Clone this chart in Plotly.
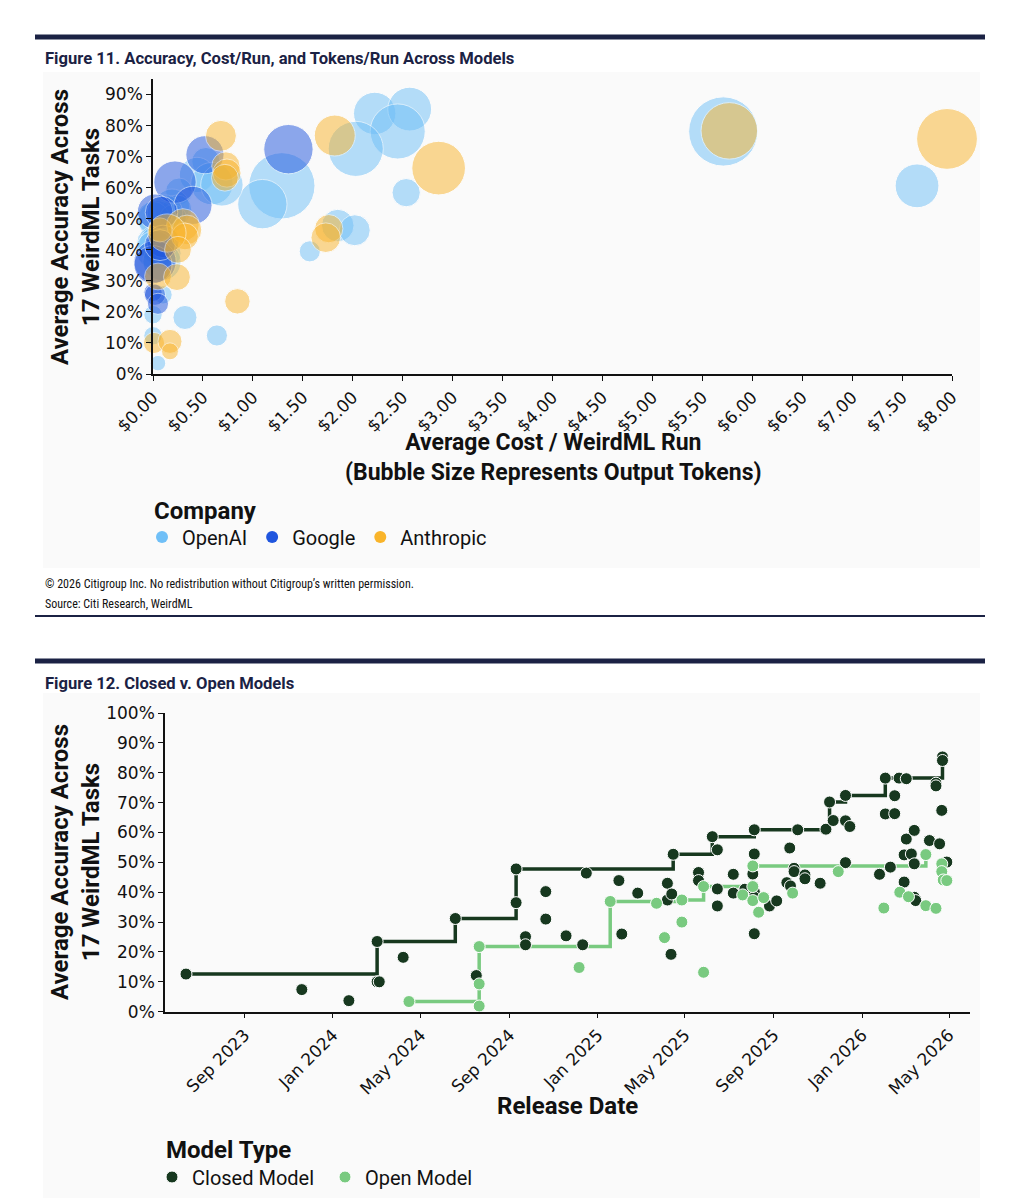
import plotly.graph_objects as go

# ---------------- Figure 11 data ----------------
openai_cost = [2.22, 2.57, 2.45, 2.03, 2.535, 1.29, 1.095, 1.85, 2.02, 1.57, 0.64, 0.32,
               0.53, 0.44, 0.59, 0.69, 0.26, 0.19, 0.24, 0.04, 0.0, 0.20, 0.0, 0.05,
               0.02, 0.14, 0.09, 0.10, 0.0, 0.0, 0.05, 5.71, 7.65, 0.12]
openai_acc = [83.9, 85.3, 78.1, 72.5, 58.4, 60.6, 54.7, 47.8, 46.3, 39.5, 12.4, 18.2,
              68.4, 64.1, 61.3, 60.9, 58.8, 53.9, 52.9, 49.7, 50.3, 50.2, 42.2, 41.6,
              40.0, 38.9, 36.2, 25.5, 19.1, 12.3, 3.5, 78.1, 60.6, 52.0]
openai_tokens_k = [450, 480, 760, 760, 200, 1100, 610, 265, 240, 112, 112, 145,
                   200, 312, 450, 450, 180, 312, 220, 365, 265, 180, 265, 365,
                   365, 200, 365, 85, 85, 85, 60, 1200, 480, 312]

google_cost = [1.356, 0.52, 0.22, 0.40, 0.02, 0.085, 0.10, 0.02, 0.0, 0.0, 0.02, 0.05, 0.07]
google_acc = [72.4, 70.6, 61.8, 54.3, 52.3, 52.0, 42.7, 36.2, 35.2, 26.3, 25.5, 22.6, 41.5]
google_tokens_k = [610, 365, 450, 365, 312, 265, 265, 450, 365, 85, 112, 112, 240]

anthropic_cost = [1.82, 2.86, 1.76, 1.73, 0.845, 0.68, 0.73, 0.74, 0.72, 0.30, 0.34,
                  0.32, 0.07, 0.14, 0.25, 0.05, 0.24, 0.01, 0.17, 0.17, 5.77, 7.95]
anthropic_acc = [76.8, 66.3, 46.8, 43.9, 23.4, 76.7, 67.0, 64.7, 63.2, 48.0, 46.4,
                 44.3, 46.4, 45.4, 40.0, 31.4, 31.2, 10.0, 10.5, 7.3, 78.3, 75.7]
anthropic_tokens_k = [420, 720, 200, 220, 162, 240, 200, 200, 180, 265, 220,
                      180, 145, 365, 180, 180, 180, 112, 145, 72, 800, 925]

cost_ticks = [i * 0.5 for i in range(17)]
acc_ticks_top = list(range(0, 100, 10))

# ---------------- Figure 12 data ----------------
closed_dates = ["2023-06-12", "2023-11-19", "2024-01-23", "2024-03-02", "2024-03-02", "2024-03-05",
                "2024-04-07", "2024-06-18", "2024-07-17", "2024-09-10", "2024-09-10", "2024-09-23",
                "2024-09-23", "2024-10-21", "2024-10-21", "2024-11-18", "2024-12-11", "2024-12-16",
                "2025-01-30", "2025-02-03", "2025-02-25", "2025-04-07", "2025-04-07", "2025-04-13",
                "2025-04-12", "2025-04-15", "2025-05-20", "2025-05-20", "2025-06-08", "2025-06-15",
                "2025-06-15", "2025-06-15", "2025-07-07", "2025-07-07", "2025-07-23", "2025-08-05",
                "2025-08-05", "2025-08-03", "2025-08-05", "2025-08-05", "2025-08-05", "2025-08-26",
                "2025-09-05", "2025-09-23", "2025-09-29", "2025-09-29", "2025-09-19", "2025-09-24",
                "2025-10-04", "2025-10-14", "2025-10-14", "2025-11-04", "2025-11-12", "2025-11-17",
                "2025-11-22", "2025-12-09", "2025-12-09", "2025-12-15", "2025-12-09", "2026-01-25",
                "2026-02-02", "2026-02-02", "2026-02-09", "2026-02-15", "2026-02-15", "2026-02-21",
                "2026-03-03", "2026-03-03", "2026-02-28", "2026-02-28", "2026-03-14", "2026-03-10",
                "2026-03-14", "2026-03-14", "2026-03-16", "2026-04-04", "2026-04-13", "2026-04-13",
                "2026-04-18", "2026-04-21", "2026-04-22", "2026-04-22", "2026-04-28"]
closed_acc = [12.6, 7.4, 3.7, 23.5, 10.0, 10.0,
              18.2, 31.2, 12.1, 47.8, 36.5, 25.1,
              22.4, 40.2, 31.0, 25.4, 22.4, 46.4,
              43.9, 26.0, 39.7, 43.0, 37.4, 39.4,
              19.2, 52.7, 46.6, 43.9, 58.6, 54.2,
              41.1, 35.4, 46.0, 39.7, 41.0, 60.9,
              52.8, 46.1, 40.2, 38.3, 26.1, 35.4,
              37.1, 54.8, 48.0, 46.9, 43.2, 42.1,
              60.9, 45.8, 44.5, 43.0, 61.1, 70.2,
              64.0, 72.4, 63.9, 62.0, 49.9, 46.0,
              78.2, 66.2, 48.4, 72.3, 66.3, 78.2,
              78.0, 57.8, 52.5, 43.4, 60.7, 52.8,
              49.5, 38.3, 37.2, 57.3, 76.5, 75.6,
              56.2, 67.4, 85.3, 84.1, 50.1]

open_dates = ["2024-04-15", "2024-07-21", "2024-07-21", "2024-07-21", "2024-12-06", "2025-01-18",
              "2025-03-23", "2025-04-03", "2025-04-27", "2025-04-27", "2025-05-27", "2025-05-27",
              "2025-07-20", "2025-08-03", "2025-08-03", "2025-08-03", "2025-08-11", "2025-08-18",
              "2025-09-27", "2025-11-29", "2026-01-31", "2026-02-22", "2026-03-06", "2026-03-30",
              "2026-03-30", "2026-04-13", "2026-04-21", "2026-04-21", "2026-04-23", "2026-04-28"]
open_acc = [3.4, 1.9, 9.3, 21.8, 14.8, 36.9,
            36.3, 24.8, 37.4, 30.0, 41.9, 13.2,
            39.1, 48.8, 41.9, 37.2, 33.3, 38.2,
            39.7, 46.9, 34.7, 40.0, 38.5, 52.6,
            35.5, 34.6, 49.5, 46.9, 44.1, 43.9]

acc_ticks_bottom = list(range(0, 110, 10))


def frontier(dates, accs):
    pts = sorted(zip(dates, accs), key=lambda p: (p[0], p[1]))
    fx, fy, best = [], [], -1
    for d, a in pts:
        if a > best:
            best = a
            fx.append(d)
            fy.append(a)
    return fx, fy


# ---------------- layout helpers ----------------
W, H = 1024, 1202


def px(x):
    return x / W


def py(y):
    return 1 - y / H


FONT = "Roboto, Inter, sans-serif"
TICKFONT = "DejaVu Sans, sans-serif"
NARROW = "Liberation Sans Narrow, Roboto Condensed, Arial Narrow, sans-serif"
NAVY = "#1b2244"
C_OPENAI = "#6fbff7"
C_GOOGLE = "#1f55de"
C_ANTH = "#f9b42a"
C_CLOSED = "#17381f"
C_OPEN = "#79ca80"

fig = go.Figure()

# bubbles
for cost, acc, tok, col in [(openai_cost, openai_acc, openai_tokens_k, C_OPENAI),
                            (google_cost, google_acc, google_tokens_k, C_GOOGLE),
                            (anthropic_cost, anthropic_acc, anthropic_tokens_k, C_ANTH)]:
    fig.add_trace(go.Scatter(
        x=cost, y=acc, mode="markers", xaxis="x", yaxis="y", showlegend=False,
        cliponaxis=False, hoverinfo="skip",
        marker=dict(size=tok, sizemode="area", sizeref=0.5, color=col, opacity=0.5,
                    line=dict(color="white", width=1))))

for name, col in [("OpenAI", C_OPENAI), ("Google", C_GOOGLE), ("Anthropic", C_ANTH)]:
    fig.add_trace(go.Scatter(x=[None], y=[None], mode="markers", name=name, xaxis="x", yaxis="y",
                             legend="legend", marker=dict(size=12, color=col)))

# frontier lines
cfx, cfy = frontier(closed_dates, closed_acc)
ofx, ofy = frontier(open_dates, open_acc)
fig.add_trace(go.Scatter(x=cfx, y=cfy, mode="lines", line=dict(shape="hv", color=C_CLOSED, width=3.5),
                         xaxis="x2", yaxis="y2", showlegend=False, hoverinfo="skip"))
fig.add_trace(go.Scatter(x=ofx, y=ofy, mode="lines", line=dict(shape="hv", color=C_OPEN, width=3.5),
                         xaxis="x2", yaxis="y2", showlegend=False, hoverinfo="skip"))
fig.add_trace(go.Scatter(x=closed_dates, y=closed_acc, mode="markers", name="Closed Model",
                         xaxis="x2", yaxis="y2", legend="legend2", cliponaxis=False,
                         marker=dict(size=12, color=C_CLOSED, line=dict(color="white", width=1))))
fig.add_trace(go.Scatter(x=open_dates, y=open_acc, mode="markers", name="Open Model",
                         xaxis="x2", yaxis="y2", legend="legend2", cliponaxis=False,
                         marker=dict(size=12, color=C_OPEN, line=dict(color="white", width=1))))

axis_common = dict(showgrid=False, zeroline=False, showline=True, linecolor="#111", linewidth=1.5,
                   ticks="outside", ticklen=5, tickcolor="#111", tickwidth=1, automargin=False)

fig.update_layout(
    width=W, height=H, autosize=False,
    margin=dict(l=0, r=0, t=0, b=0, pad=0, autoexpand=False),
    paper_bgcolor="white", plot_bgcolor="rgba(0,0,0,0)",
    font=dict(family=FONT, color="#111"),
    xaxis=dict(domain=[px(153), px(952)], range=[0, 8], tickmode="array", tickvals=cost_ticks,
               ticktext=[f"${v:.2f}" for v in cost_ticks], tickangle=-45, anchor="y",
               tickfont=dict(family=TICKFONT, size=17, color="#111"), **axis_common),
    yaxis=dict(domain=[py(374), py(79)], range=[0, 95], tickmode="array", tickvals=acc_ticks_top,
               ticktext=[f"{v}%" for v in acc_ticks_top], anchor="x",
               tickfont=dict(family=TICKFONT, size=17, color="#111"), **axis_common),
    xaxis2=dict(domain=[px(165), px(970)], type="date", range=["2023-05-14", "2026-05-30"],
                tick0="2023-09-01", dtick="M4", tickformat="%b %Y", tickangle=-45, anchor="y2",
                tickfont=dict(family=TICKFONT, size=17, color="#111"), **axis_common),
    yaxis2=dict(domain=[py(1011.7), py(713)], range=[0, 100], tickmode="array", tickvals=acc_ticks_bottom,
                ticktext=[f"{v}%" for v in acc_ticks_bottom], anchor="x2",
                tickfont=dict(family=TICKFONT, size=17, color="#111"), **axis_common),
    legend=dict(orientation="h", x=px(142), y=py(537), xanchor="left", yanchor="middle",
                bgcolor="rgba(0,0,0,0)", font=dict(family=FONT, size=20, color="#111"),
                itemclick=False),
    legend2=dict(orientation="h", x=px(152), y=py(1177), xanchor="left", yanchor="middle",
                 bgcolor="rgba(0,0,0,0)", font=dict(family=FONT, size=20, color="#111"),
                 entrywidth=128, entrywidthmode="pixels", itemclick=False),
)

# panels and rules
shapes = []
for y0, y1 in [(72, 568), (693, 1198)]:
    shapes.append(dict(type="rect", xref="paper", yref="paper", x0=px(43), x1=px(980), y0=py(y1), y1=py(y0),
                       fillcolor="#fafafa", line=dict(width=0), layer="below"))
for y, w in [(37, 5), (616, 2), (661, 5)]:
    shapes.append(dict(type="line", xref="paper", yref="paper", x0=px(35), x1=px(985), y0=py(y), y1=py(y),
                       line=dict(color=NAVY, width=w)))
fig.update_layout(shapes=shapes)

ann = []
ann.append(dict(text="<b>Figure 11. Accuracy, Cost/Run, and Tokens/Run Across Models</b>", x=px(43), y=py(59),
                xanchor="left", yanchor="middle", font=dict(family=FONT, size=16.6, color=NAVY)))
ann.append(dict(text="<b>Figure 12. Closed v. Open Models</b>", x=px(43), y=py(683),
                xanchor="left", yanchor="middle", font=dict(family=FONT, size=16.6, color=NAVY)))
ann.append(dict(text="<b>Average Accuracy Across<br>17 WeirdML Tasks</b>", x=px(75), y=py(227),
                textangle=-90, xanchor="center", yanchor="middle", font=dict(family=FONT, size=24)))
ann.append(dict(text="<b>Average Accuracy Across<br>17 WeirdML Tasks</b>", x=px(75), y=py(862),
                textangle=-90, xanchor="center", yanchor="middle", font=dict(family=FONT, size=24)))
ann.append(dict(text="<b>Average Cost / WeirdML Run<br>(Bubble Size Represents Output Tokens)</b>",
                x=px(553), y=py(457), xanchor="center", yanchor="middle", font=dict(family=FONT, size=23)))
ann.append(dict(text="<b>Release Date</b>", x=px(567), y=py(1106), xanchor="center", yanchor="middle",
                font=dict(family=FONT, size=24)))
ann.append(dict(text="<b>Company</b>", x=px(152), y=py(511), xanchor="left", yanchor="middle",
                font=dict(family=FONT, size=24)))
ann.append(dict(text="<b>Model Type</b>", x=px(164), y=py(1150), xanchor="left", yanchor="middle",
                font=dict(family=FONT, size=24)))
ann.append(dict(text="© 2026 Citigroup Inc. No redistribution without Citigroup\u2019s written permission.",
                x=px(43), y=py(584), xanchor="left", yanchor="middle", font=dict(family=NARROW, size=12)))
ann.append(dict(text="Source: Citi Research, WeirdML", x=px(43), y=py(604), xanchor="left", yanchor="middle",
                font=dict(family=NARROW, size=12)))
for a in ann:
    a.update(xref="paper", yref="paper", showarrow=False)
fig.update_layout(annotations=ann)

fig.write_html("out.html")
